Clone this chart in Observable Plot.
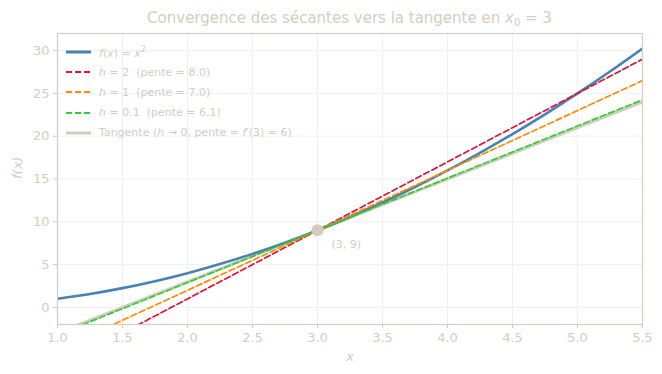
<!DOCTYPE html>
<html><head><meta charset="utf-8">
<script src="https://cdn.jsdelivr.net/npm/d3@7"></script>
<script src="https://cdn.jsdelivr.net/npm/@observablehq/plot@0.6"></script>
<style>
body{margin:0;background:#fff;font-family:"DejaVu Sans",sans-serif;}
#wrap{position:relative;width:662px;height:374px;}
#title{position:absolute;left:57px;width:585px;top:9px;text-align:center;font-size:15px;color:#d5cdbf;}
#legend{position:absolute;left:66px;top:42px;font-size:11px;color:#d5cdbf;}
.row{height:20.2px;display:flex;align-items:center;white-space:pre;}
.row svg{margin-right:8px;}
</style></head>
<body><div id="wrap"><div id="title">Convergence des sécantes vers la tangente en <i>x</i><span style="font-size:10px;position:relative;top:3px">0</span> = 3</div><div id="legend"></div></div>
<script>
// Data
const curveX = [1, 1.25, 1.5, 1.75, 2, 2.25, 2.5, 2.75, 3, 3.25, 3.5, 3.75, 4, 4.25, 4.5, 4.75, 5, 5.25, 5.5];
const curveY = [1, 1.5625, 2.25, 3.0625, 4, 5.0625, 6.25, 7.5625, 9, 10.5625, 12.25, 14.0625, 16, 18.0625, 20.25, 22.5625, 25, 27.5625, 30.25];
const lineNames = ["h2", "h1", "h01", "tan"];
const lineX = [1, 5.5];
const lineY = {h2: [-7, 29], h1: [-5, 26.5], h01: [-3.2, 24.25], tan: [-3, 24]};
const pointXY = [3, 9];
const xTicks = [1.0, 1.5, 2.0, 2.5, 3.0, 3.5, 4.0, 4.5, 5.0, 5.5];
const yTicks = [0, 5, 10, 15, 20, 25, 30];
const legendLabels = [
  "<i>f</i>(<i>x</i>) = <i>x</i><sup style='font-size:8px'>2</sup>",
  "<i>h</i> = 2  (pente = 8.0)",
  "<i>h</i> = 1  (pente = 7.0)",
  "<i>h</i> = 0.1  (pente = 6.1)",
  "Tangente (<i>h</i> → 0, pente = <i>f</i>′(3) = 6)"
];

const txt = "#d5cdbf";
const colors = {f: "#4682b4", h2: "#dc143c", h1: "#ff8c00", h01: "#32cd32", tan: "#d3cbbd"};
const dash = "6,3";

const curve = curveX.map((x, i) => ({x, y: curveY[i]}));
const lines = {};
for (const n of lineNames) lines[n] = lineX.map((x, i) => ({x, y: lineY[n][i]}));

const chart = Plot.plot({
  width: 662, height: 374,
  marginLeft: 57, marginRight: 20, marginTop: 33, marginBottom: 50,
  style: {fontFamily: "DejaVu Sans, sans-serif", fontSize: "13px", color: txt, background: "transparent"},
  x: {domain: [1, 5.5]},
  y: {domain: [-2, 32]},
  marks: [
    Plot.gridX(xTicks, {stroke: "#f0f0f0", strokeOpacity: 1}),
    Plot.gridY(yTicks, {stroke: "#f0f0f0", strokeOpacity: 1}),
    Plot.line(lines.tan, {x: "x", y: "y", stroke: colors.tan, strokeWidth: 3, clip: true}),
    Plot.line(curve, {x: "x", y: "y", stroke: colors.f, strokeWidth: 2.6, curve: "natural", clip: true}),
    Plot.line(lines.h2, {x: "x", y: "y", stroke: colors.h2, strokeWidth: 1.7, strokeDasharray: dash, clip: true}),
    Plot.line(lines.h1, {x: "x", y: "y", stroke: colors.h1, strokeWidth: 1.7, strokeDasharray: dash, clip: true}),
    Plot.line(lines.h01, {x: "x", y: "y", stroke: colors.h01, strokeWidth: 1.7, strokeDasharray: dash, clip: true}),
    Plot.dot([pointXY], {x: d => d[0], y: d => d[1], r: 6, fill: "#d3cbbd", stroke: null}),
    Plot.text([pointXY], {x: d => d[0], y: d => d[1], text: d => `(${d[0]}, ${d[1]})`, dx: 14, dy: 14, textAnchor: "start", fill: txt, fontSize: 11}),
    Plot.frame({stroke: "#d5cdbf", strokeWidth: 1.2}),
    Plot.axisX(xTicks, {tickSize: 4, tickPadding: 4, stroke: "#d5cdbf", tickFormat: d3.format(".1f"), label: null, fontSize: 13}),
    Plot.axisY(yTicks, {tickSize: 4, tickPadding: 4, stroke: "#d5cdbf", label: null, fontSize: 13}),
    Plot.text(["x"], {frameAnchor: "bottom", dy: 36, text: d => d, fontStyle: "italic", fill: txt, fontSize: 13}),
    Plot.text(["f(x)"], {frameAnchor: "left", dx: -40, rotate: -90, text: d => d, fontStyle: "italic", fill: txt, fontSize: 13})
  ]
});
const wrap = document.getElementById("wrap");
wrap.insertBefore(chart, wrap.firstChild);

const leg = document.getElementById("legend");
const legStyles = [
  {c: colors.f, w: 3, d: null},
  {c: colors.h2, w: 1.8, d: dash},
  {c: colors.h1, w: 1.8, d: dash},
  {c: colors.h01, w: 1.8, d: dash},
  {c: colors.tan, w: 3, d: null}
];
legendLabels.forEach((lab, i) => {
  const s = legStyles[i];
  const row = document.createElement("div");
  row.className = "row";
  row.innerHTML = `<svg width="25" height="8"><line x1="0" y1="4" x2="25" y2="4" stroke="${s.c}" stroke-width="${s.w}" ${s.d ? `stroke-dasharray="${s.d}"` : ""}/></svg><span>${lab}</span>`;
  leg.appendChild(row);
});
</script></body></html>
